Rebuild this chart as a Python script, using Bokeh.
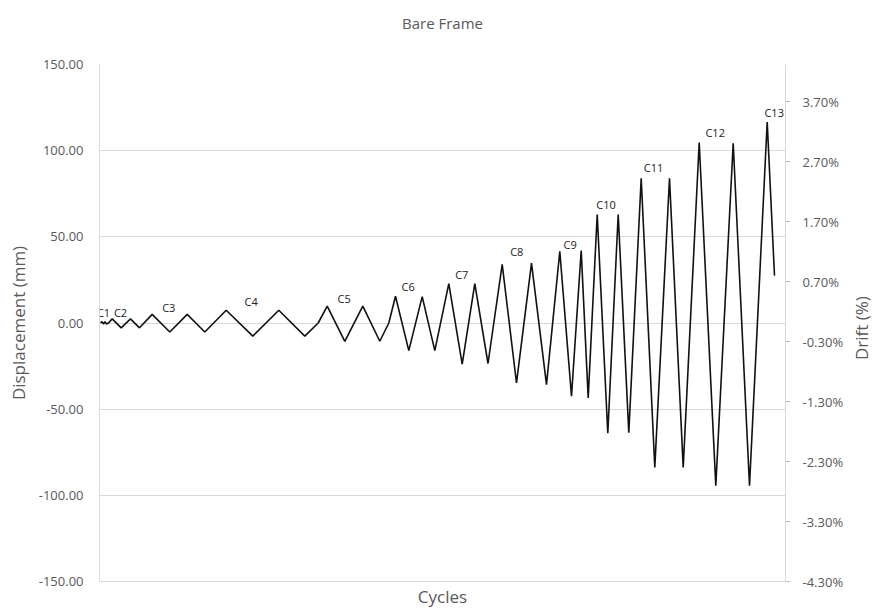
import math
from bokeh.plotting import figure
from bokeh.layouts import row
from bokeh.models import Range1d, LinearAxis, FixedTicker, NumeralTickFormatter, PrintfTickFormatter, ColumnDataSource
from bokeh.core.properties import value
from bokeh.embed import file_html
from bokeh.resources import INLINE

# Displacement history (step index along the "Cycles" axis, displacement in mm)
step = [1, 2.5, 4, 5.5, 7, 9,
        12.7, 21.7, 31, 40,
        52.7, 70.3, 87.7, 105.3,
        126.7, 153.3, 179.3, 205.3, 218.7,
        227.7, 245.3, 263.3, 280.3, 289.3,
        296, 309.3, 322.7, 335.3,
        349.3, 362.7, 375.3, 388.5,
        402.7, 417, 432, 447,
        460.3, 472, 481.7, 488.7,
        497.7, 508.3, 518.7, 529.3,
        541.7, 555.3, 570, 583.7,
        599.7, 616.3, 633.7, 650,
        667.7, 675]
disp = [0, 0.8, -0.6, 0.8, -0.6, 0,
        2.4, -2.8, 2.4, -2.8,
        5.0, -5.2, 5.0, -5.2,
        7.4, -7.6, 7.4, -7.6, 0,
        9.8, -10.6, 9.8, -10.6, 0,
        15.5, -16.0, 15.3, -16.0,
        22.8, -23.8, 22.8, -23.5,
        34.0, -34.8, 34.8, -35.8,
        41.6, -42.5, 42.0, -43.5,
        63.0, -64.0, 63.0, -63.6,
        84.0, -83.8, 84.0, -83.8,
        104.7, -94.4, 104.3, -94.4,
        116.6, 27.5]

cycle_labels = ["C1", "C2", "C3", "C4", "C5", "C6", "C7", "C8", "C9", "C10", "C11", "C12", "C13"]
label_step = [4, 21, 69.3, 151.7, 244.7, 308.7, 362.3, 417.3, 470.7, 506.5, 554, 615.7, 674.7]
label_disp = [6.2, 6.2, 9.1, 12.6, 14.5, 21.4, 28.1, 41.6, 45.8, 69.0, 90.3, 110.8, 122.3]

disp_ticks = [-150, -100, -50, 0, 50, 100, 150]
drift_ticks = [-4.3, -3.3, -2.3, -1.3, -0.3, 0.7, 1.7, 2.7, 3.7]

FONT = "Open Sans"
GREY = "#595959"
GRID = "#d9d9d9"

p = figure(width=847, height=610, output_backend="svg", toolbar_location=None,
           x_range=Range1d(0, 686), y_range=Range1d(-150, 150),
           min_border_left=99, min_border_right=62, min_border_top=64, min_border_bottom=29)
p.outline_line_color = None
p.background_fill_color = "white"
p.border_fill_color = "white"

p.extra_y_ranges = {"drift": Range1d(-4.30, 4.317)}


def title_axis(axis, text, size, standoff):
    axis.ticker = FixedTicker(ticks=[])
    axis.axis_label = text
    axis.axis_label_text_font = FONT
    axis.axis_label_text_font_size = size
    axis.axis_label_text_font_style = "normal"
    axis.axis_label_text_color = GREY
    axis.axis_label_standoff = standoff
    axis.major_label_standoff = 0
    axis.major_label_text_font_size = "0px"
    axis.major_tick_out = 0
    axis.major_tick_in = 0
    axis.major_tick_line_color = None
    axis.minor_tick_line_color = None


# grid
p.xgrid.visible = False
p.ygrid.ticker = FixedTicker(ticks=disp_ticks)
p.ygrid.grid_line_color = GRID
p.ygrid.grid_line_width = 1

# left axis
ya = p.yaxis[0]
ya.ticker = FixedTicker(ticks=disp_ticks)
ya.formatter = NumeralTickFormatter(format="0.00")
ya.axis_label = "Displacement (mm)"
ya.axis_label_text_font = FONT
ya.axis_label_text_font_size = "17px"
ya.axis_label_text_font_style = "normal"
ya.axis_label_text_color = GREY
ya.axis_label_standoff = 6
ya.major_label_text_font = FONT
ya.major_label_text_font_size = "13px"
ya.major_label_text_color = GREY
ya.major_label_standoff = 16
ya.major_tick_out = 0
ya.major_tick_in = 0
ya.major_tick_line_color = None
ya.minor_tick_line_color = None
ya.axis_line_color = GRID

# bottom axis: only its title; the -150 grid line closes the frame
xa = p.xaxis[0]
title_axis(xa, "Cycles", "17px", 3)
xa.axis_line_color = GRID

# chart title, carried by a tick-less axis above the frame
ta = LinearAxis()
title_axis(ta, "Bare Frame", "15px", 32)
ta.axis_line_color = None
p.add_layout(ta, "above")

# right axis with the drift ticks
ra = LinearAxis(y_range_name="drift", ticker=FixedTicker(ticks=drift_ticks),
                formatter=PrintfTickFormatter(format="%.2f%%"))
ra.major_label_text_font = FONT
ra.major_label_text_font_size = "13px"
ra.major_label_text_color = GREY
ra.major_label_standoff = 12
ra.major_tick_out = 5
ra.major_tick_in = 0
ra.major_tick_line_color = "#bfbfbf"
ra.minor_tick_line_color = None
ra.axis_line_color = GRID
p.add_layout(ra, "right")

src = ColumnDataSource(data=dict(x=step, y=disp))
p.line("x", "y", source=src, line_color="#111111", line_width=1.6)

lsrc = ColumnDataSource(data=dict(x=label_step, y=label_disp, t=cycle_labels))
p.text("x", "y", text="t", source=lsrc, text_font=value(FONT), text_font_size="11px",
       text_color="#222222", text_align="center", text_baseline="middle")

# narrow strip on the right carrying the drift-axis title (reads bottom to top)
q = figure(width=26, height=610, output_backend="svg", toolbar_location=None,
           x_range=Range1d(0, 26), y_range=Range1d(610, 0), min_border=0)
q.outline_line_color = None
q.axis.visible = False
q.grid.visible = False
q.border_fill_color = "white"
q.background_fill_color = "white"
q.text(x=[14], y=[311], text=["Drift (%)"], angle=math.pi / 2,
       text_font=value(FONT), text_font_size="17px", text_color=GREY,
       text_align="center", text_baseline="middle")

layout = row(p, q, spacing=0)
open("out.html", "w").write(file_html(layout, INLINE))
